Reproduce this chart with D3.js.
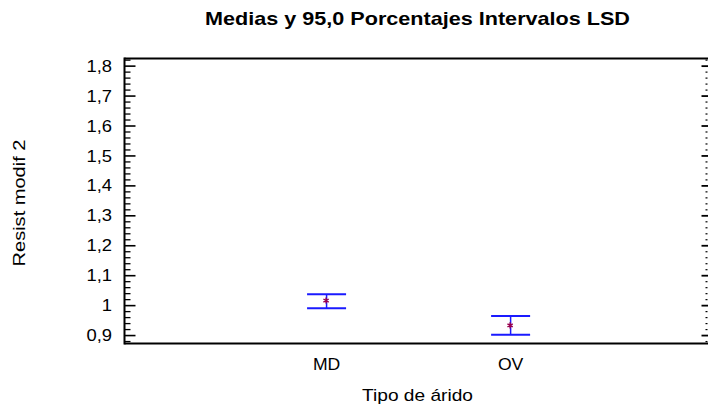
<!DOCTYPE html>
<html>
<head>
<meta charset="utf-8">
<script src="https://cdn.jsdelivr.net/npm/d3@7"></script>
<style>
  html, body { margin: 0; padding: 0; background: #fff; }
  svg { display: block; font-family: "Liberation Sans", Arial, sans-serif; }
</style>
</head>
<body>
<svg id="chart" width="708" height="409"></svg>
<script>
// Means and 95% LSD intervals by aggregate type
const categories = ["MD", "OV"];
const means = [1.017, 0.934];
const lower = [0.991, 0.903];
const upper = [1.038, 0.965];
const yTicks = [0.9, 1.0, 1.1, 1.2, 1.3, 1.4, 1.5, 1.6, 1.7, 1.8];

const title = "Medias y 95,0 Porcentajes Intervalos LSD";
const xTitle = "Tipo de árido";
const yTitle = "Resist modif 2";

const plot = { left: 124.5, top: 58.5, right: 709, bottom: 343.5 };

const svg = d3.select("#chart");

const y = d3.scaleLinear().domain([0.8735, 1.8255]).range([plot.bottom, plot.top]);
const x = d3.scaleLinear().domain([-0.098, 3.078]).range([plot.left, plot.right]);

const fmt = v => (Math.abs(v - 1) < 1e-9 ? "1" : d3.format(".1f")(v).replace(".", ","));

// text placed at (px, py) whose glyphs are widened along the baseline by factor k
function wideText(parent, px, py, str, opts) {
  const t = parent.append("text")
    .attr("x", 0).attr("y", 0)
    .attr("text-anchor", opts.anchor || "middle")
    .attr("font-size", opts.size)
    .attr("font-weight", opts.weight || "normal")
    .attr("fill", "#000")
    .text(str);
  let k = opts.k || 1;
  if (opts.width) k = opts.width / t.node().getComputedTextLength();
  t.attr("transform", `translate(${px},${py})${opts.rotate ? ` rotate(${opts.rotate})` : ""} scale(${k},1)`);
  return t;
}

// minor ticks every 0.02
const minor = d3.range(0, 48).map(i => +(0.88 + i * 0.02).toFixed(2))
  .filter(v => v <= 1.82 && !yTicks.some(t => Math.abs(t - v) < 1e-6));

// left axis: ticks point inward
const gl = svg.append("g");
gl.selectAll("line.maj").data(yTicks).join("line")
  .attr("x1", plot.left).attr("x2", plot.left + 11)
  .attr("y1", d => y(d)).attr("y2", d => y(d))
  .attr("stroke", "#000").attr("stroke-width", 1.6);
gl.selectAll("line.min").data(minor).join("line")
  .attr("x1", plot.left).attr("x2", plot.left + 6)
  .attr("y1", d => y(d)).attr("y2", d => y(d))
  .attr("stroke", "#000").attr("stroke-width", 1.3);
yTicks.forEach(v => wideText(gl, 112, y(v) + 5.6, fmt(v), { anchor: "end", size: 16, k: 1.15 }));

// right side ticks
const gr = svg.append("g");
gr.selectAll("line.maj").data(yTicks).join("line")
  .attr("x1", 701.5).attr("x2", 708)
  .attr("y1", d => y(d)).attr("y2", d => y(d))
  .attr("stroke", "#000").attr("stroke-width", 1.8);
gr.selectAll("line.min").data(minor).join("line")
  .attr("x1", 705.5).attr("x2", 707.5)
  .attr("y1", d => y(d)).attr("y2", d => y(d))
  .attr("stroke", "#000").attr("stroke-width", 1.2);

// frame
svg.append("line").attr("x1", plot.left).attr("x2", plot.right)
  .attr("y1", plot.top).attr("y2", plot.top).attr("stroke", "#000").attr("stroke-width", 2);
svg.append("line").attr("x1", plot.left).attr("x2", plot.right)
  .attr("y1", plot.bottom).attr("y2", plot.bottom).attr("stroke", "#000").attr("stroke-width", 2.2);
svg.append("line").attr("x1", plot.left).attr("x2", plot.left)
  .attr("y1", plot.top - 1).attr("y2", plot.bottom + 1).attr("stroke", "#000").attr("stroke-width", 2);

// interval bars
const data = categories.map((c, i) => ({ c, i, m: means[i], lo: lower[i], hi: upper[i] }));
const capHalf = 19.5;
const blue = "#1a1aff";
const bars = svg.append("g");
bars.selectAll("line.v").data(data).join("line")
  .attr("x1", d => x(d.i + 1)).attr("x2", d => x(d.i + 1))
  .attr("y1", d => y(d.lo)).attr("y2", d => y(d.hi))
  .attr("stroke", blue).attr("stroke-width", 1.5);
bars.selectAll("line.hi").data(data).join("line")
  .attr("x1", d => x(d.i + 1) - capHalf).attr("x2", d => x(d.i + 1) + capHalf)
  .attr("y1", d => y(d.hi)).attr("y2", d => y(d.hi))
  .attr("stroke", blue).attr("stroke-width", 2);
bars.selectAll("line.lo").data(data).join("line")
  .attr("x1", d => x(d.i + 1) - capHalf).attr("x2", d => x(d.i + 1) + capHalf)
  .attr("y1", d => y(d.lo)).attr("y2", d => y(d.lo))
  .attr("stroke", blue).attr("stroke-width", 2);

// mean markers: small asterisk
const asterisk = d3.symbol().type(d3.symbolAsterisk || d3.symbolCross).size(26);
bars.selectAll("path").data(data).join("path")
  .attr("transform", d => `translate(${x(d.i + 1) - 0.5},${y(d.m)})`)
  .attr("d", asterisk)
  .attr("fill", "none").attr("stroke", "#99004d").attr("stroke-width", 1.4);

// category labels
const gc = svg.append("g");
data.forEach(d => wideText(gc, x(d.i + 1), 370, d.c, { size: 16, k: 1.1 }));

// titles
wideText(svg, 417.5, 25, title, { size: 18, weight: "bold", width: 425 });
wideText(svg, 417.5, 401, xTitle, { size: 16, width: 111 });
wideText(svg, 25, 203, yTitle, { size: 16, width: 127, rotate: -90 });
</script>
</body>
</html>
